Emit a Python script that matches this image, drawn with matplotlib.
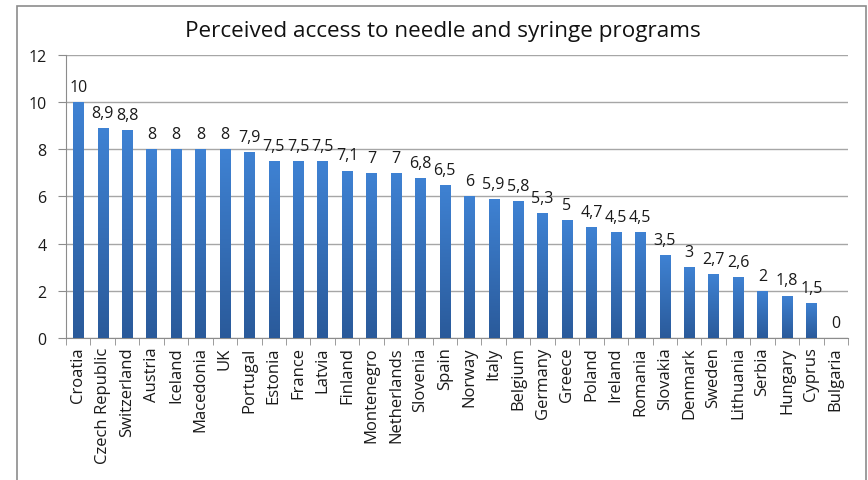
import matplotlib.pyplot as plt
import numpy as np
from matplotlib.patches import Rectangle
from matplotlib.colors import LinearSegmentedColormap

countries = ['Croatia', 'Czech Republic', 'Switzerland', 'Austria', 'Iceland', 'Macedonia',
             'UK', 'Portugal', 'Estonia', 'France', 'Latvia', 'Finland', 'Montenegro',
             'Netherlands', 'Slovenia', 'Spain', 'Norway', 'Italy', 'Belgium', 'Germany',
             'Greece', 'Poland', 'Ireland', 'Romania', 'Slovakia', 'Denmark', 'Sweden',
             'Lithuania', 'Serbia', 'Hungary', 'Cyprus', 'Bulgaria']
values = [10, 8.9, 8.8, 8, 8, 8, 8, 7.9, 7.5, 7.5, 7.5, 7.1, 7, 7, 6.8, 6.5, 6,
          5.9, 5.8, 5.3, 5, 4.7, 4.5, 4.5, 3.5, 3, 2.7, 2.6, 2, 1.8, 1.5, 0]

plt.rcParams['font.family'] = ['Open Sans', 'DejaVu Sans']

fig = plt.figure(figsize=(8.68, 4.81), dpi=100)
ax = fig.add_axes([66 / 868, 0.2952, (848 - 66) / 868, 0.5884])

# outer chart frame
fig.patches.append(Rectangle((17 / 868, -0.1), (866 - 17) / 868, 1.1 - 7 / 481,
                             transform=fig.transFigure, fill=False,
                             edgecolor='#8c8c8c', linewidth=1.2))

x = np.arange(len(countries))
bars = ax.bar(x, values, width=0.42, color='#3a75c4', zorder=2)

# vertical gradient, lighter at top
grad = np.linspace(0, 1, 256).reshape(-1, 1)
cmap = LinearSegmentedColormap.from_list('b', ['#2a5a9a', '#3f82d3'])
for b in bars:
    h = b.get_height()
    if h <= 0:
        continue
    x0 = b.get_x()
    im = ax.imshow(grad, cmap=cmap, aspect='auto', origin='lower',
                   extent=[x0, x0 + b.get_width(), 0, h], zorder=3)
    im.set_clip_path(b)

for xi, v in zip(x, values):
    lbl = ('%g' % v).replace('.', ',')
    ax.text(xi, v + 0.3, lbl, ha='center', va='bottom', fontsize=11.5, color='#1a1a1a')

ax.set_xlim(-0.5, len(countries) - 0.5)
ax.set_ylim(0, 12)
ax.set_yticks(range(0, 13, 2))
ax.set_xticks(x)
ax.set_xticklabels(countries, rotation=90, fontsize=12, color='#1a1a1a')
ax.set_xticks(np.arange(-0.5, len(countries)), minor=True)
ax.tick_params(axis='x', which='major', length=0, pad=6)
ax.tick_params(axis='x', which='minor', length=5, color='#8c8c8c')
ax.tick_params(axis='y', length=6, color='#8c8c8c', labelsize=11.5, labelcolor='#1a1a1a', pad=8)
ax.grid(axis='y', color='#a6a6a6', linewidth=1, zorder=0)
ax.set_axisbelow(True)
for s in ['top', 'right']:
    ax.spines[s].set_visible(False)
for s in ['left', 'bottom']:
    ax.spines[s].set_color('#8c8c8c')

fig.text(443 / 868, 1 - 32 / 481, 'Perceived access to needle and syringe programs',
         ha='center', va='center', fontsize=16.2, color='#111111')

fig.savefig('out.png', dpi=100)
